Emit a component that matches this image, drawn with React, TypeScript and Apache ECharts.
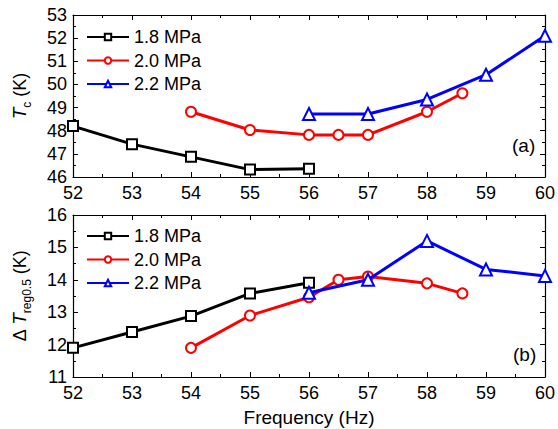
import React, { useEffect, useRef } from "react";
import * as echarts from "echarts";

const seriesNames = ["1.8 MPa", "2.0 MPa", "2.2 MPa"];
const colors = ["#000000", "#ff0000", "#0000ff"];
const symbols = ["emptyRect", "emptyCircle", "emptyTriangle"];

// Panel (a): Tc (K)
const freq18 = [52, 53, 54, 55, 56];
const tc18 = [48.2, 47.42, 46.87, 46.32, 46.36];
const freq20 = [54, 55, 56, 56.5, 57, 58, 58.6];
const tc20 = [48.82, 48.03, 47.82, 47.82, 47.82, 48.82, 49.62];
const freq22 = [56, 57, 58, 59, 60];
const tc22 = [48.72, 48.72, 49.35, 50.42, 52.1];

// Panel (b): ΔTreg0.5 (K)
const dt18 = [11.9, 12.39, 12.88, 13.58, 13.91];
const dt20 = [11.9, 12.9, 13.46, 14.0, 14.1, 13.89, 13.58];
const dt22 = [13.6, 14.0, 15.2, 14.32, 14.12];

const xTicks = { min: 52, max: 60, interval: 1 };
const yTopTicks = { min: 46, max: 53, interval: 1 };
const yBotTicks = { min: 11, max: 16, interval: 1 };

const FONT = "'Liberation Sans', Arial, sans-serif";

function zip(xs: number[], ys: number[]) {
  return xs.map((x, i) => [x, ys[i]]);
}

export default function App() {
  const ref = useRef<HTMLDivElement>(null);
  useEffect(() => {
    if (!ref.current) return;
    const chart = echarts.init(ref.current, null, { renderer: "svg" });

    const left = 73;
    const right = 11;
    const gridTop = [15, 215];
    const gridH = 162;

    const axisLine = { show: true, lineStyle: { color: "#000", width: 1.2 } };
    const labelStyle = { color: "#000", fontSize: 18, fontFamily: FONT };

    const mkX = (gi: number, pos: "bottom" | "top", show: boolean, name?: string) => ({
      type: "value",
      gridIndex: gi,
      position: pos,
      min: xTicks.min,
      max: xTicks.max,
      interval: xTicks.interval,
      axisLine,
      axisTick: { show: true, inside: true, length: 5, lineStyle: { color: "#000", width: 1 } },
      minorTick: { show: true, splitNumber: 2, length: 3, lineStyle: { color: "#000", width: 1 } },
      axisLabel: { show, ...labelStyle, margin: 7 },
      splitLine: { show: false },
      name: name || "",
      nameLocation: "middle",
      nameGap: 31,
      nameTextStyle: { color: "#000", fontSize: 19, fontFamily: FONT },
    });

    const mkY = (gi: number, pos: "left" | "right", show: boolean, t: { min: number; max: number; interval: number }, name?: string) => ({
      type: "value",
      gridIndex: gi,
      position: pos,
      min: t.min,
      max: t.max,
      interval: t.interval,
      axisLine,
      axisTick: { show: true, inside: true, length: 5, lineStyle: { color: "#000", width: 1 } },
      minorTick: { show: true, splitNumber: 2, length: 3, lineStyle: { color: "#000", width: 1 } },
      axisLabel: { show, ...labelStyle, margin: 6 },
      splitLine: { show: false },
      name: name || "",
      nameLocation: "middle",
      nameRotate: 90,
      nameGap: 44,
      nameTextStyle: {
        color: "#000",
        fontSize: 18,
        fontFamily: FONT,
        rich: {
          it: { fontSize: 19, fontStyle: "italic", fontFamily: FONT, color: "#000", verticalAlign: "bottom", lineHeight: 22 },
          sub: { fontSize: 12, fontFamily: FONT, color: "#000", verticalAlign: "bottom", lineHeight: 12, padding: [0, 0, -4, 0] },
          n: { fontSize: 18, fontFamily: FONT, color: "#000", verticalAlign: "bottom", lineHeight: 22 },
        },
      },
    });

    const mkSeries = (name: string, idx: number, data: number[][], gi: number) => ({
      type: "line",
      name,
      xAxisIndex: gi * 2,
      yAxisIndex: gi * 2,
      data,
      clip: false,
      symbol: symbols[idx],
      symbolSize: idx === 2 ? 12 : 10,
      lineStyle: { color: colors[idx], width: 3 },
      itemStyle: { color: colors[idx], borderWidth: 1.5 },
      z: 3 + idx,
    });

    const mkLegend = (top: number) => ({
      data: seriesNames,
      orient: "vertical",
      left: 86,
      top,
      padding: 0,
      itemWidth: 42,
      itemHeight: 8,
      itemGap: 5.5,
      textStyle: { color: "#000", fontSize: 18, fontFamily: FONT },
      selectedMode: false,
    });

    chart.setOption({
      animation: false,
      backgroundColor: "#fff",
      grid: [
        { left, right, top: gridTop[0], height: gridH },
        { left, right, top: gridTop[1], height: gridH },
      ],
      xAxis: [
        mkX(0, "bottom", true),
        mkX(0, "top", false),
        mkX(1, "bottom", true, "Frequency (Hz)"),
        mkX(1, "top", false),
      ],
      yAxis: [
        mkY(0, "left", true, yTopTicks, "{it|T}{sub|c}{n| (K)}"),
        mkY(0, "right", false, yTopTicks),
        mkY(1, "left", true, yBotTicks, "{n|Δ }{it|T}{sub|reg0.5}{n| (K)}"),
        mkY(1, "right", false, yBotTicks),
      ],
      legend: [mkLegend(28), mkLegend(227)],
      series: [
        mkSeries(seriesNames[0], 0, zip(freq18, tc18), 0),
        mkSeries(seriesNames[1], 1, zip(freq20, tc20), 0),
        mkSeries(seriesNames[2], 2, zip(freq22, tc22), 0),
        mkSeries(seriesNames[0], 0, zip(freq18, dt18), 1),
        mkSeries(seriesNames[1], 1, zip(freq20, dt20), 1),
        mkSeries(seriesNames[2], 2, zip(freq22, dt22), 1),
      ],
      graphic: [
        { type: "text", left: 512, top: 136, style: { text: "(a)", fill: "#000", font: `19px ${FONT}` } },
        { type: "text", left: 513, top: 345, style: { text: "(b)", fill: "#000", font: `19px ${FONT}` } },
      ],
    });

    return () => chart.dispose();
  }, []);

  return <div ref={ref} style={{ width: 558, height: 429, position: "absolute", left: 0, top: 0 }} />;
}
